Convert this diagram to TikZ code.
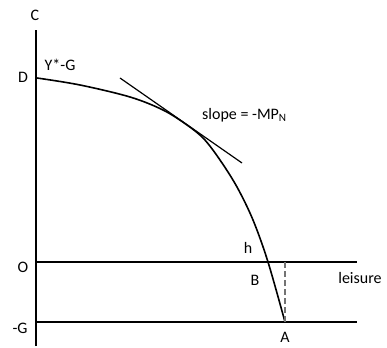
\documentclass[tikz,border=0pt]{standalone}
\usepackage{fontspec}
\setmainfont{Carlito}
\usepackage{tikz}
\usetikzlibrary{calc}
\tikzset{
  axisline/.style={line width=1.6pt},
  levelline/.style={line width=1.2pt},
  lbl/.style={inner sep=0pt}
}

\begin{document}
\begin{tikzpicture}[x=1pt, y=1pt, font=\fontsize{16}{19}\selectfont,
  every node/.append style={lbl}
]
\useasboundingbox (0,0) rectangle (387,347);
% axes and levels
\coordinate (top) at (36,317);
\coordinate (bot) at (36,1);
\draw[axisline] (bot) -- (top);
\node (C) at (35,332) {C};

\coordinate (zero) at (36,85);
\coordinate (zeroEnd) at (357,85);
\draw[levelline] (zero) -- (zeroEnd);
\node (O) at (23,80) {O};

\coordinate (minusG) at (36,25);
\coordinate (minusGEnd) at (357,25);
\draw[levelline] (minusG) -- (minusGEnd);
\node (G) at (20,19) {-G};

% production possibility curve
\coordinate (D) at (37,269);
\coordinate (A) at (285,25);
\draw[line width=1.6pt] plot[smooth, tension=0.55] coordinates {(37,269) (80,262)
  (130,250) (163,237) (187,222) (204,208) (220,187) (237,160) (253,127)
  (268,85) (285,25)};
\node (Dlbl) at (23,270) {D};
\node (YG) at (60,282) {Y*-G};

% tangent
\coordinate (tanL) at (120,269);
\coordinate (tanR) at (242,184);
\draw[line width=1.2pt] (tanL) -- (tanR);
\node[anchor=west] (slope) at (202,232) {slope = -MP\textsubscript{N}};

% dashed drop
\draw[black!55, dash pattern=on 6pt off 3pt, line width=1.2pt] (A) -- (A |- zero);
\node (h) at (248,99) {h};
\node (B) at (255,67) {B};
\node (Albl) at (285,10) {A};
\node (leisure) at (360,69) {leisure};
\end{tikzpicture}
\end{document}
